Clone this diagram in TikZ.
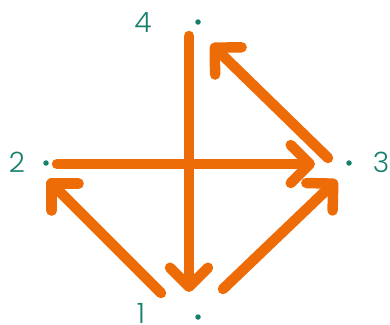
\documentclass[tikz,border=0pt]{standalone}
\usepackage{fontspec}
\IfFontExistsTF{Poppins Light}{\setmainfont{Poppins Light}}{\setmainfont{Poppins}}
\usetikzlibrary{arrows.meta}
\definecolor{teal1}{HTML}{17806D}
\definecolor{orng}{HTML}{EE6C08}
\begin{document}
\begin{tikzpicture}[x=1pt,y=-1pt,
  dot/.style={circle,fill=teal1,inner sep=0pt,minimum size=5.5pt},
  lbl/.style={text=teal1,font=\fontsize{28}{28}\selectfont,inner sep=0pt},
  conn/.style={draw=orng,line width=10.5pt,line cap=round,line join=round,
    -{Straight Barb[round,length=19pt,width=38pt]}}]
\useasboundingbox (0,0) rectangle (390,324);
% dots
\node[dot] (d4) at (198,22) {};
\node[dot] (d2) at (46,163) {};
\node[dot] (d3) at (349,163) {};
\node[dot] (d1) at (198,317) {};
% labels
\node[lbl] (l4) at (143,23) {4};
\node[lbl] (l2) at (17,162) {2};
\node[lbl] (l3) at (381,162) {3};
\node[lbl] (l1) at (141,313) {1};
% endpoints
\coordinate (vs) at (189,36);
\coordinate (ve) at (189,292);
\coordinate (hs) at (57,164);
\coordinate (he) at (315,164);
\coordinate (as) at (328,158);
\coordinate (ae) at (211,44);
\coordinate (bs) at (161,293);
\coordinate (be) at (48,180);
\coordinate (cs) at (223,289);
\coordinate (ce) at (337,180);
\draw[conn] (vs) -- (ve);
\draw[conn] (hs) -- (he);
\draw[conn] (as) -- (ae);
\draw[conn] (bs) -- (be);
\draw[conn] (cs) -- (ce);
\end{tikzpicture}
\end{document}
